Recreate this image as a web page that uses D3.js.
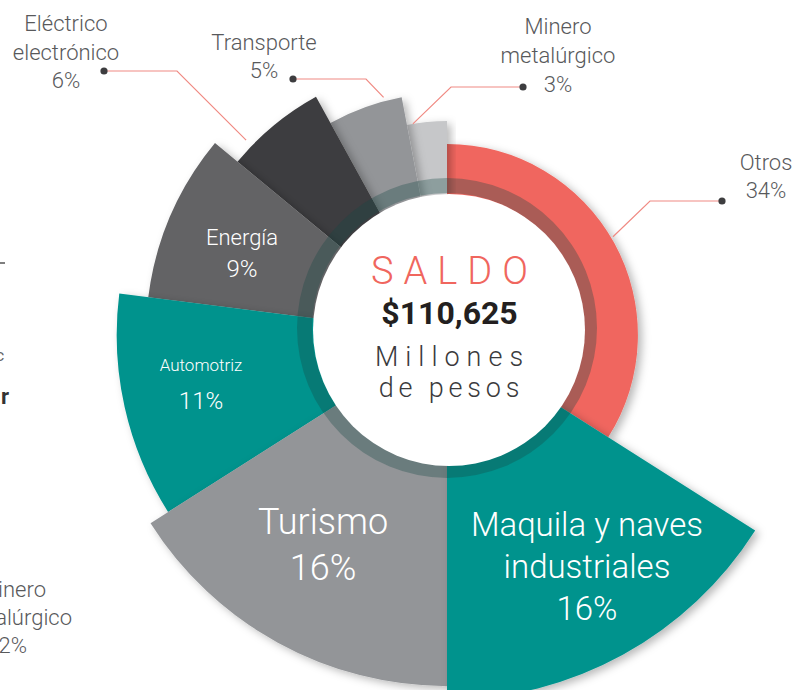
<!DOCTYPE html>
<html>
<head>
<meta charset="utf-8">
<script src="https://cdn.jsdelivr.net/npm/d3@7"></script>
<style>
  html, body { margin: 0; padding: 0; background: #ffffff; }
  svg { display: block; }
  text { font-family: Roboto, "Open Sans", sans-serif; }
</style>
</head>
<body>
<div id="chart"></div>
<script>
// ---- data ----
const categorias = ["Otros", "Maquila y naves industriales", "Turismo", "Automotriz", "Energía", "Eléctrico electrónico", "Transporte", "Minero metalúrgico"];
const porcentajes = [34, 16, 16, 11, 9, 6, 5, 3];
// relative outer reach of every slice (index 0-100)
const alcance = [52.3, 100, 96.2, 90.5, 82.5, 74.5, 66.3, 58.6];
const etiquetas = [["Otros", "34%"], ["Maquila y naves", "industriales", "16%"], ["Turismo", "16%"], ["Automotriz", "11%"], ["Energía", "9%"], ["Eléctrico", "electrónico", "6%"], ["Transporte", "5%"], ["Minero", "metalúrgico", "3%"]];
const saldoTitulo = "SALDO";
const saldoValor = "$110,625";
const saldoUnidad = ["Millones", "de pesos"];

// ---- styles ----
const colores = ["#f0665e", "#00938d", "#939598", "#00938d", "#636365", "#3d3d3f", "#939598", "#c6c7c9"];
const W = 798, H = 690;
const cx = 447, cy = 335;

const svg = d3.select("#chart").append("svg").attr("width", W).attr("height", H);
const defs = svg.append("defs");
const f = defs.append("filter").attr("id", "sombra").attr("x", "-20%").attr("y", "-20%").attr("width", "140%").attr("height", "140%");
f.append("feDropShadow").attr("dx", 4).attr("dy", 3).attr("stdDeviation", 4)
  .attr("flood-color", "#000").attr("flood-opacity", 0.28);

const datos = categorias.map((c, i) => ({ cat: c, v: porcentajes[i], a: alcance[i], i }));
const pie = d3.pie().sort(null).value(d => d.v).startAngle(0).endAngle(2 * Math.PI);
const arcos = pie(datos);
const rScale = d3.scaleLinear().domain([0, 100]).range([0, 365]);
const arc = d3.arc().innerRadius(100).outerRadius(d => rScale(d.data.a));

const g = svg.append("g").attr("transform", `translate(${cx},${cy})`);
g.selectAll("path.slice")
  .data(arcos.slice().sort((a, b) => a.data.a - b.data.a))
  .join("path")
  .attr("class", "slice")
  .attr("d", arc)
  .attr("fill", d => colores[d.data.i])
  .attr("filter", "url(#sombra)");

// translucent ring + white centre
const gc = svg.append("g").attr("transform", `translate(447,328)`);
gc.append("path")
  .attr("d", d3.arc().innerRadius(135).outerRadius(150).startAngle(0).endAngle(2 * Math.PI)())
  .attr("fill", "rgba(22,72,68,0.32)");
svg.append("circle").attr("cx", 449).attr("cy", 330).attr("r", 136).attr("fill", "#ffffff");

// centre text
const ct = svg.append("g").attr("transform", "translate(449.5,0)").attr("text-anchor", "middle");
ct.append("text").attr("y", 284).attr("dx", 5).attr("font-size", 38).attr("font-weight", 300)
  .attr("letter-spacing", 10).attr("fill", "#f0665e").text(saldoTitulo);
ct.append("text").attr("y", 324).attr("font-size", 32).attr("font-weight", 700)
  .attr("fill", "#231f20").text(saldoValor);
ct.append("text").attr("y", 366).attr("dx", 3).attr("font-size", 27).attr("font-weight", 300)
  .attr("letter-spacing", 7).attr("fill", "#3a3a3c").text(saldoUnidad[0]);
ct.append("text").attr("y", 397).attr("dx", 2).attr("font-size", 27).attr("font-weight", 300)
  .attr("letter-spacing", 4.8).attr("fill", "#3a3a3c").text(saldoUnidad[1]);

// inner labels (white)
const internas = [
  { i: 1, x: 587, y: [536, 578, 620], fs: [33, 33, 33] },
  { i: 2, x: 323, y: [534, 580], fs: [36, 36] },
  { i: 3, x: 201, y: [371, 409], fs: [17, 24] },
  { i: 4, x: 242, y: [245, 277], fs: [22, 24] }
];
internas.forEach(L => {
  etiquetas[L.i].forEach((t, k) => {
    svg.append("text").attr("x", L.x).attr("y", L.y[k]).attr("text-anchor", "middle")
      .attr("font-size", L.fs[k]).attr("font-weight", 300).attr("fill", "#ffffff").text(t);
  });
});

// outside labels with leader lines
const externas = [
  { i: 0, t: 0.485, off: 2, codo: [650, 201], punto: [722, 201], x: 766, y: [170, 198] },
  { i: 5, t: 0.21, off: 8, codo: [177, 71], punto: [104, 71], x: 66, y: [31, 60, 88] },
  { i: 6, t: 0.77, off: 4, codo: [366, 79], punto: [293, 79], x: 264, y: [50, 78] },
  { i: 7, t: 0.15, off: 0, codo: [451, 87], punto: [523, 87], x: 558, y: [34, 63, 92] }
];
externas.forEach(L => {
  const a = arcos[L.i];
  const ang = a.startAngle + L.t * (a.endAngle - a.startAngle);
  const rr = rScale(a.data.a) + L.off;
  const ex = cx + rr * Math.sin(ang), ey = cy - rr * Math.cos(ang);
  svg.append("polyline")
    .attr("points", [[ex, ey], L.codo, L.punto].map(p => p.join(",")).join(" "))
    .attr("fill", "none").attr("stroke", "#f08a83").attr("stroke-width", 1.2);
  svg.append("circle").attr("cx", L.punto[0]).attr("cy", L.punto[1]).attr("r", 3.6).attr("fill", "#3d3d3f");
  etiquetas[L.i].forEach((t, k) => {
    svg.append("text").attr("x", L.x).attr("y", L.y[k]).attr("text-anchor", "middle")
      .attr("font-size", 22).attr("font-weight", 300).attr("fill", "#58595b").text(t);
  });
});

// fragments of neighbouring page content cut by the frame
const frag = svg.append("g").attr("fill", "#58595b").attr("font-size", 22).attr("font-weight", 300).attr("text-anchor", "end");
frag.append("text").attr("x", 46).attr("y", 597).text("Minero");
frag.append("text").attr("x", 72).attr("y", 625).text("metalúrgico");
frag.append("text").attr("x", 27).attr("y", 653).text("2%");
svg.append("line").attr("x1", 0).attr("x2", 5).attr("y1", 263).attr("y2", 263).attr("stroke", "#555").attr("stroke-width", 1.5);
svg.append("text").attr("x", 9).attr("y", 404).attr("text-anchor", "end").attr("font-family", "Liberation Serif, DejaVu Serif, serif")
  .attr("font-weight", 700).attr("font-size", 22).attr("fill", "#333").text("r");
svg.append("text").attr("x", 4).attr("y", 361).attr("text-anchor", "end").attr("font-size", 16).attr("fill", "#666").text("c");
</script>
</body>
</html>
